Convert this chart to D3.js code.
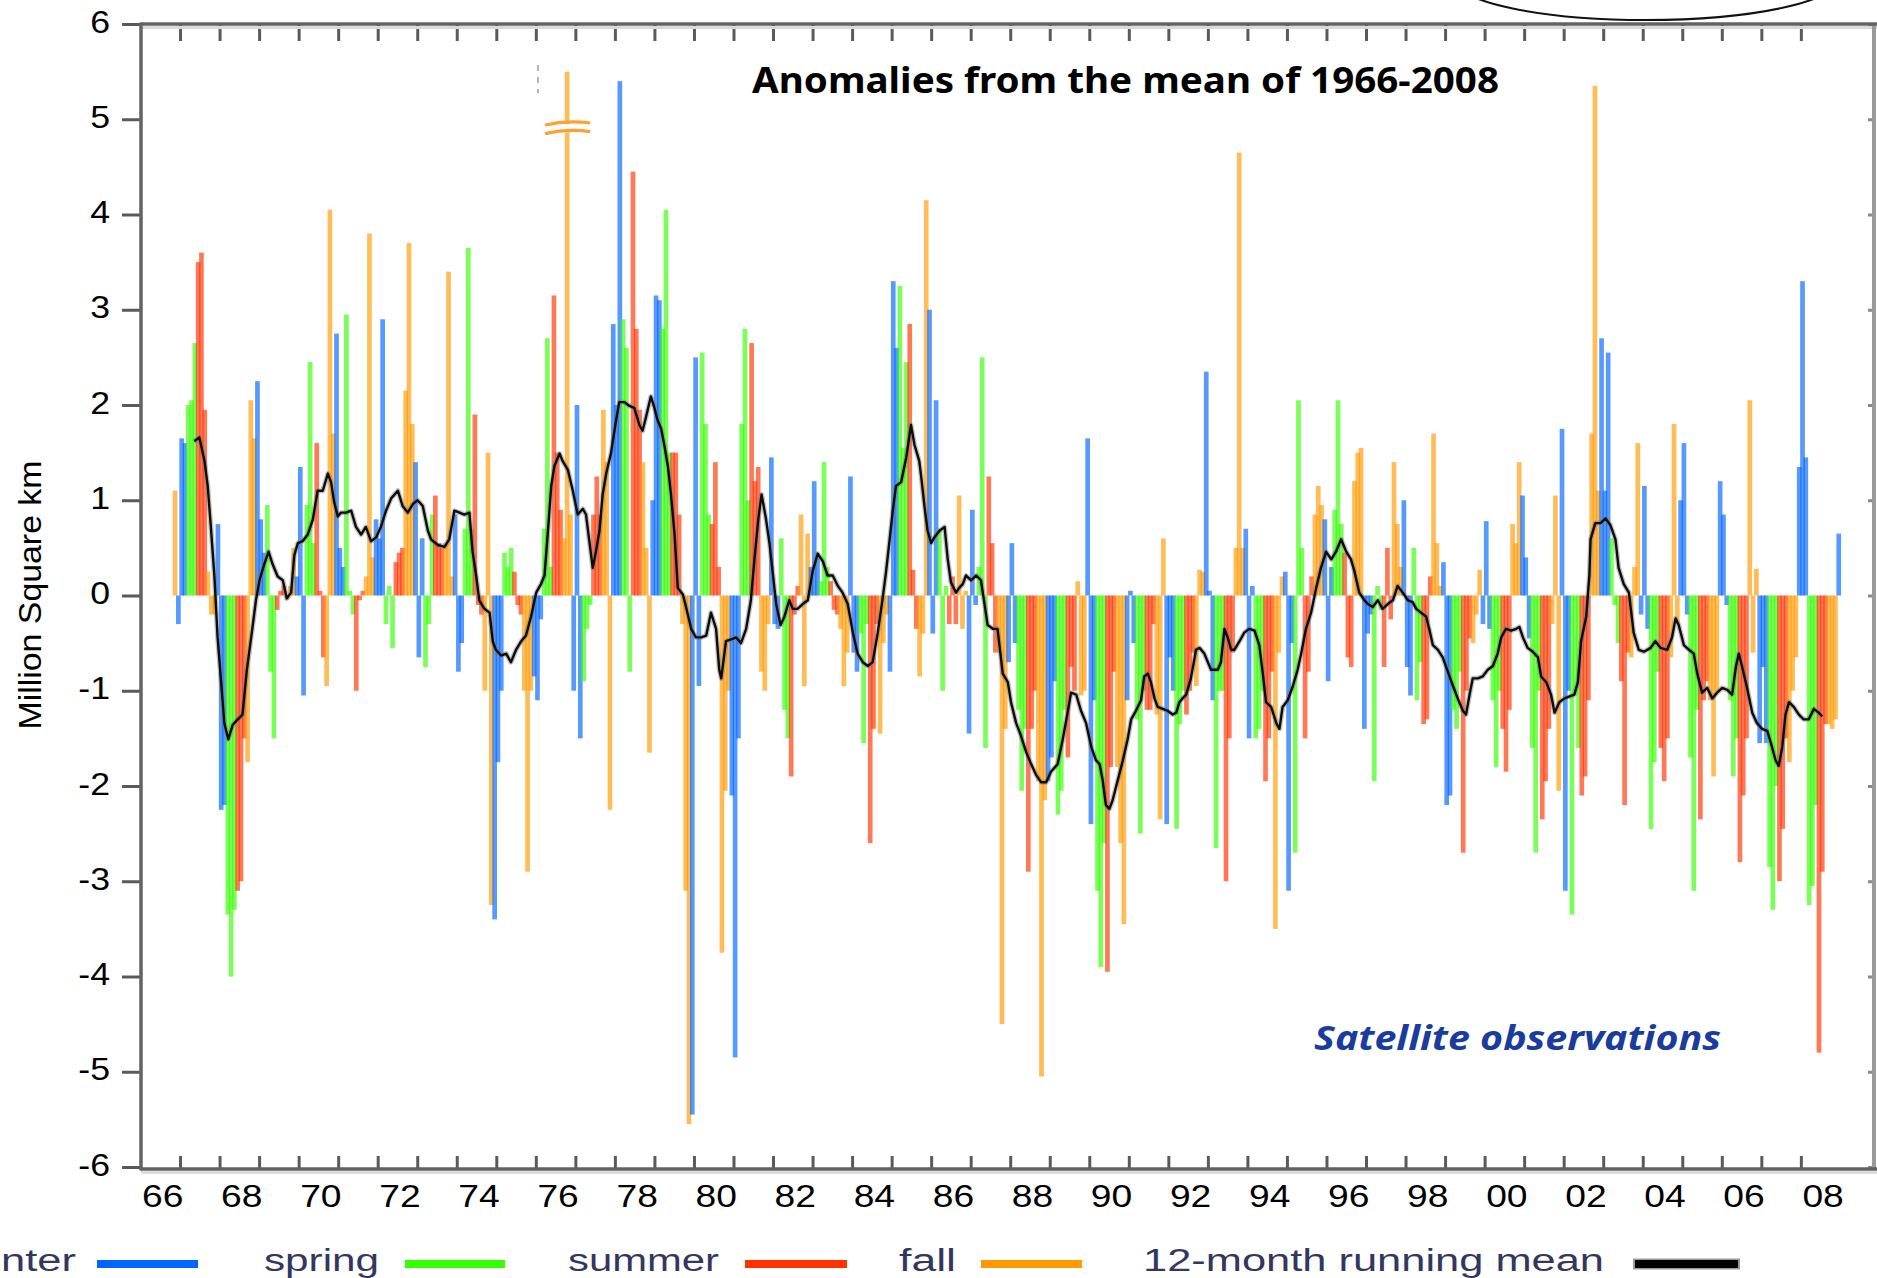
<!DOCTYPE html>
<html>
<head>
<meta charset="utf-8">
<script src="https://cdn.jsdelivr.net/npm/d3@7"></script>
<style>
  html, body { margin: 0; padding: 0; background: #ffffff; overflow: hidden; }
  svg { display: block; }
</style>
</head>
<body>
<svg id="chart" width="1877" height="1278"></svg>
<script>
// Northern Hemisphere snow cover: monthly anomalies (million km²), Jan..Dec per row
const firstYear = 1966;
const anomalies1966to1969 = [
  [null, null, null, null, null, null, null, null, null, null, 1.1, -0.3],
  [1.65, 1.6, 2.0, 2.05, 2.65, 3.5, 3.6, 1.95, 0.25, -0.2, -0.2, 0.75],
  [-2.25, -2.2, -3.35, -4.0, -3.3, -3.1, -3.0, -1.5, -1.75, 2.05, 1.65, 2.25],
  [0.8, 0.45, 0.95, -0.8, -1.5, -0.15, 0.05, 0.1, -0.05, 0.1, 0.5, 0.2]
];
const anomalies1970s = [
  [1.35, -1.05, 0.95, 2.45, 0.55, 1.6, 0.05, -0.65, -0.95, 4.05, 1.7, 2.75],
  [0.5, 0.3, 2.95, 0.05, -0.2, -1.0, -0.05, 0.05, 0.2, 3.8, 0.4, 0.8],
  [0.6, 2.9, -0.3, 0.1, -0.55, 0.35, 0.45, 0.5, 2.15, 3.7, 1.8, 1.4],
  [-0.65, 0.6, -0.75, -0.3, 0.85, 1.05, 0.55, 0.5, 0.55, 3.4, 0.2, 0.85],
  [-0.8, -0.5, 0.7, 3.65, 0.7, 1.9, -0.1, -0.2, -1.0, 1.5, -3.25, -3.4],
  [-1.75, -1.0, 0.45, 0.3, 0.5, 0.25, -0.1, -0.2, -1.0, -2.9, -1.0, -0.85],
  [-1.1, -0.25, 0.7, 2.7, 0.3, 3.15, 1.5, 0.9, 0.6, 5.5, 0.85, -1.0],
  [2.0, -1.5, -0.9, -0.35, -0.1, 0.85, 1.25, 0.85, 1.95, 1.4, -2.25, 2.85],
  [2.0, 5.4, 2.9, 2.6, -0.8, 4.45, 2.8, 1.95, 1.4, 0.5, -1.65, 1.0],
  [3.15, 3.1, 2.8, 4.05, 1.5, 1.5, 1.5, 0.85, -0.3, -3.1, -5.55, -5.45]
];
const anomalies1980s = [
  [2.5, -0.95, 2.55, 1.8, 0.85, 0.75, 1.4, 0.3, -3.75, -2.05, -1.0, -2.1],
  [-4.85, -1.5, 1.8, 2.8, 1.0, 2.65, 1.2, 1.35, -0.8, -1.0, -0.3, 1.45],
  [-0.3, -0.35, 0.6, -1.2, -1.5, -1.9, -0.2, 0.1, 0.85, -0.95, 0.65, 0.3],
  [1.2, 0.4, 0.15, 1.4, 0.3, 0.15, -0.15, -0.2, -0.35, -0.95, -0.6, 1.25],
  [-0.6, -0.8, -0.4, -1.55, -0.3, -2.6, -1.4, -0.3, -1.45, -0.5, -0.2, -0.8],
  [3.3, 2.6, 3.25, 1.55, 2.45, 2.85, 0.27, -0.35, -0.85, -0.4, 4.15, 3.0],
  [-0.4, 2.05, 0.7, -1.0, 0.1, -0.3, 0.2, -0.3, 1.05, -0.35, 0.05, -1.45],
  [0.9, -0.1, 0.3, 2.5, -1.6, 1.25, 0.55, -0.6, -0.6, -4.5, -1.4, -0.7],
  [0.55, -0.5, -1.2, -2.05, -1.4, -2.9, -1.4, -1.0, -1.95, -5.05, -2.15, -1.95],
  [-1.7, -0.9, -2.3, -2.05, -1.2, -1.7, -0.75, -1.0, 0.15, -1.05, -1.0, 1.65]
];
const anomalies1990s = [
  [-2.4, -1.1, -3.1, -3.9, -2.6, -3.95, -1.8, -0.8, -1.8, -2.6, -3.45, -1.1],
  [0.05, -0.5, -1.3, -2.5, -1.0, -1.2, -1.2, -0.3, -1.25, -2.35, 0.6, -2.4],
  [-0.65, -1.0, -2.45, -1.35, -1.0, -1.25, -1.0, -0.6, -0.95, 0.27, 0.25, 2.35],
  [0.05, -1.1, -2.65, -1.0, -1.0, -3.0, -1.5, -0.6, 0.5, 4.65, 0.5, 0.7],
  [-1.5, 0.1, -1.5, -1.4, -1.0, -1.95, -1.5, -0.8, -3.5, -0.6, 0.2, 0.25],
  [-3.1, -0.5, -2.7, 2.05, 0.5, -1.5, -0.8, 0.2, 0.85, 1.15, 0.95, 0.8],
  [-0.9, 0.3, 0.9, 2.05, 0.75, 0.45, -0.65, -0.75, 1.2, 1.5, 1.55, -1.4],
  [-0.4, -0.2, -1.95, 0.1, -0.15, -0.75, 0.5, -0.25, 1.4, 0.75, 0.3, 1.0],
  [-0.75, -1.05, 0.5, -1.1, -0.7, -1.35, -1.3, 0.2, 1.7, 0.55, 0.1, 0.35],
  [-2.2, -2.1, -1.2, -1.4, -0.8, -2.7, -1.0, -0.45, -0.5, -0.2, 0.27, -0.3]
];
const anomalies2000s = [
  [0.78, -0.35, -1.1, -1.8, -1.0, -1.4, -1.85, -1.2, 0.75, 0.55, 1.4, 1.05],
  [0.4, -0.45, -1.6, -2.7, -1.0, -2.35, -1.95, -1.4, -0.3, 1.05, -2.05, 1.75],
  [-3.1, -1.0, -3.35, -1.0, -1.6, -2.1, -1.9, -1.1, 1.7, 5.35, 1.1, 2.7],
  [1.1, 2.55, 0.6, -0.1, -0.5, -0.9, -2.2, -0.6, -0.65, 0.3, 1.6, -0.2],
  [1.15, -0.35, -2.45, -1.75, -0.8, -1.6, -1.95, -1.5, -0.65, 1.8, -0.3, 1.0],
  [1.6, -0.2, -1.7, -3.1, -1.2, -2.35, -1.1, -0.9, -1.1, -1.9, -1.0, 1.2],
  [0.85, -0.1, -1.1, -1.9, -1.5, -2.8, -2.1, -1.5, 2.05, -0.6, 0.28, -1.55],
  [-0.75, -1.55, -2.85, -3.3, -2.0, -3.0, -2.45, -1.5, -1.75, -1.0, -0.65, 1.35],
  [3.3, 1.45, -3.25, -3.05, -2.2, -4.8, -2.9, -1.35, -1.35, -1.4, -1.3, 0.65]
];

// 12-month running mean (decimal year, million km²)
const runMeanTime = [
  1967.36, 1967.49, 1967.62, 1967.70, 1967.78, 1967.87, 1967.95, 1968.04, 1968.12, 1968.22,
  1968.33, 1968.46, 1968.58, 1968.69, 1968.80, 1968.92, 1969.01, 1969.13, 1969.24, 1969.34,
  1969.47, 1969.60, 1969.70, 1969.81, 1969.89, 1969.98, 1970.10, 1970.23, 1970.36, 1970.48,
  1970.61, 1970.74, 1970.82, 1970.90, 1970.99, 1971.07, 1971.20, 1971.33, 1971.45, 1971.58,
  1971.70, 1971.83, 1971.96, 1972.08, 1972.21, 1972.34, 1972.51, 1972.63, 1972.76, 1972.89,
  1973.01, 1973.14, 1973.27, 1973.35, 1973.52, 1973.69, 1973.81, 1973.94, 1974.07, 1974.19,
  1974.32, 1974.40, 1974.49, 1974.57, 1974.70, 1974.83, 1974.91, 1974.99, 1975.12, 1975.25,
  1975.37, 1975.50, 1975.63, 1975.75, 1975.88, 1976.01, 1976.13, 1976.22, 1976.30, 1976.39,
  1976.47, 1976.60, 1976.68, 1976.81, 1976.93, 1977.06, 1977.19, 1977.27, 1977.36, 1977.44,
  1977.52, 1977.61, 1977.69, 1977.78, 1977.90, 1978.03, 1978.11, 1978.24, 1978.37, 1978.49,
  1978.62, 1978.70, 1978.79, 1978.91, 1979.00, 1979.08, 1979.17, 1979.25, 1979.34, 1979.42,
  1979.51, 1979.59, 1979.72, 1979.80, 1979.93, 1980.05, 1980.18, 1980.31, 1980.43, 1980.56,
  1980.64, 1980.69, 1980.81, 1980.94, 1981.07, 1981.19, 1981.32, 1981.44, 1981.53, 1981.63,
  1981.71, 1981.82, 1981.91, 1981.99, 1982.08, 1982.19, 1982.29, 1982.41, 1982.50, 1982.62,
  1982.75, 1982.88, 1983.00, 1983.13, 1983.26, 1983.38, 1983.51, 1983.64, 1983.76, 1983.89,
  1984.02, 1984.14, 1984.27, 1984.40, 1984.52, 1984.65, 1984.78, 1984.86, 1984.94, 1985.03,
  1985.11, 1985.24, 1985.37, 1985.49, 1985.58, 1985.70, 1985.75, 1985.83, 1985.91, 1986.00,
  1986.08, 1986.21, 1986.34, 1986.42, 1986.50, 1986.63, 1986.71, 1986.80, 1986.88, 1987.01,
  1987.14, 1987.26, 1987.35, 1987.43, 1987.56, 1987.68, 1987.81, 1987.94, 1988.02, 1988.15,
  1988.27, 1988.40, 1988.53, 1988.65, 1988.78, 1988.91, 1989.03, 1989.20, 1989.33, 1989.46,
  1989.54, 1989.67, 1989.79, 1989.92, 1990.05, 1990.17, 1990.26, 1990.34, 1990.42, 1990.51,
  1990.59, 1990.72, 1990.85, 1990.97, 1991.06, 1991.18, 1991.31, 1991.39, 1991.48, 1991.56,
  1991.65, 1991.73, 1991.86, 1991.98, 1992.11, 1992.20, 1992.28, 1992.36, 1992.45, 1992.57,
  1992.70, 1992.79, 1992.91, 1993.08, 1993.25, 1993.33, 1993.42, 1993.50, 1993.59, 1993.67,
  1993.80, 1993.92, 1994.05, 1994.18, 1994.30, 1994.39, 1994.47, 1994.60, 1994.73, 1994.81,
  1994.89, 1995.02, 1995.15, 1995.27, 1995.36, 1995.48, 1995.61, 1995.74, 1995.86, 1995.99,
  1996.12, 1996.24, 1996.37, 1996.50, 1996.62, 1996.71, 1996.83, 1996.96, 1997.05, 1997.17,
  1997.30, 1997.42, 1997.55, 1997.68, 1997.80, 1997.93, 1998.06, 1998.18, 1998.27, 1998.39,
  1998.52, 1998.61, 1998.69, 1998.82, 1998.94, 1999.07, 1999.20, 1999.32, 1999.45, 1999.53,
  1999.62, 1999.70, 1999.83, 1999.95, 2000.08, 2000.21, 2000.33, 2000.42, 2000.54, 2000.67,
  2000.80, 2000.88, 2000.97, 2001.09, 2001.22, 2001.35, 2001.43, 2001.56, 2001.68, 2001.77,
  2001.89, 2002.02, 2002.15, 2002.27, 2002.36, 2002.44, 2002.57, 2002.65, 2002.68, 2002.80,
  2002.93, 2003.06, 2003.18, 2003.31, 2003.39, 2003.52, 2003.65, 2003.77, 2003.90, 2004.03,
  2004.20, 2004.32, 2004.45, 2004.62, 2004.74, 2004.83, 2004.91, 2005.04, 2005.17, 2005.29,
  2005.38, 2005.50, 2005.63, 2005.76, 2005.88, 2006.01, 2006.14, 2006.26, 2006.36, 2006.43,
  2006.51, 2006.64, 2006.77, 2006.89, 2007.02, 2007.15, 2007.27, 2007.36, 2007.44, 2007.53,
  2007.61, 2007.70, 2007.82, 2007.95, 2008.07, 2008.20, 2008.33, 2008.45, 2008.54
];
const runMeanValue = [
  1.62, 1.66, 1.41, 1.15, 0.72, 0.20, -0.44, -0.91, -1.34, -1.51,
  -1.36, -1.30, -1.25, -0.78, -0.44, -0.05, 0.16, 0.33, 0.46, 0.33,
  0.20, 0.16, -0.03, 0.03, 0.42, 0.55, 0.57, 0.64, 0.80, 1.10,
  1.10, 1.28, 1.19, 0.98, 0.83, 0.87, 0.87, 0.89, 0.72, 0.64,
  0.72, 0.57, 0.61, 0.72, 0.89, 1.02, 1.10, 0.94, 0.87, 0.96,
  1.00, 0.94, 0.68, 0.59, 0.53, 0.51, 0.59, 0.89, 0.87, 0.85,
  0.87, 0.46, 0.21, -0.05, -0.14, -0.18, -0.48, -0.57, -0.63, -0.61,
  -0.70, -0.57, -0.48, -0.42, -0.22, 0.03, 0.12, 0.21, 0.64, 1.15,
  1.36, 1.49, 1.41, 1.32, 1.11, 0.85, 0.91, 0.85, 0.55, 0.29,
  0.46, 0.68, 1.06, 1.28, 1.49, 1.84, 2.03, 2.03, 1.99, 1.97,
  1.79, 1.73, 1.88, 2.09, 1.97, 1.84, 1.75, 1.58, 1.36, 1.06,
  0.64, 0.08, 0.01, -0.12, -0.35, -0.44, -0.44, -0.42, -0.18, -0.35,
  -0.78, -0.87, -0.48, -0.46, -0.44, -0.50, -0.35, -0.05, 0.38, 0.81,
  1.06, 0.81, 0.55, 0.25, -0.09, -0.31, -0.22, -0.05, -0.14, -0.14,
  -0.09, -0.05, 0.25, 0.44, 0.36, 0.21, 0.21, 0.10, 0.03, -0.09,
  -0.39, -0.61, -0.70, -0.74, -0.70, -0.39, -0.01, 0.25, 0.55, 0.89,
  1.15, 1.19, 1.45, 1.79, 1.58, 1.41, 1.24, 0.94, 0.68, 0.55,
  0.61, 0.68, 0.72, 0.38, 0.14, 0.03, 0.08, 0.12, 0.21, 0.16,
  0.21, 0.16, -0.09, -0.31, -0.35, -0.35, -0.82, -0.91, -1.12, -1.34,
  -1.47, -1.64, -1.77, -1.88, -1.96, -1.96, -1.85, -1.77, -1.51, -1.21,
  -1.02, -1.04, -1.21, -1.34, -1.59, -1.73, -1.77, -1.94, -2.20, -2.24,
  -2.15, -1.94, -1.73, -1.51, -1.30, -1.21, -1.10, -0.85, -0.82, -0.91,
  -1.08, -1.17, -1.19, -1.21, -1.25, -1.23, -1.12, -1.08, -1.04, -0.87,
  -0.57, -0.55, -0.61, -0.78, -0.78, -0.70, -0.35, -0.44, -0.57, -0.57,
  -0.48, -0.39, -0.35, -0.37, -0.52, -0.82, -1.12, -1.17, -1.34, -1.40,
  -1.17, -1.10, -0.95, -0.78, -0.61, -0.35, -0.18, 0.08, 0.29, 0.46,
  0.38, 0.46, 0.59, 0.46, 0.38, 0.25, 0.03, -0.05, -0.09, -0.12,
  -0.05, -0.14, -0.09, -0.05, 0.10, 0.03, -0.05, -0.07, -0.14, -0.18,
  -0.22, -0.37, -0.52, -0.57, -0.65, -0.80, -0.95, -1.08, -1.21, -1.25,
  -1.04, -0.87, -0.87, -0.85, -0.78, -0.74, -0.61, -0.44, -0.35, -0.37,
  -0.35, -0.33, -0.44, -0.55, -0.59, -0.65, -0.85, -0.91, -1.04, -1.23,
  -1.12, -1.08, -1.06, -1.04, -0.91, -0.48, -0.22, 0.21, 0.59, 0.76,
  0.76, 0.81, 0.74, 0.59, 0.29, 0.12, 0.03, -0.39, -0.57, -0.59,
  -0.55, -0.48, -0.55, -0.57, -0.44, -0.24, -0.31, -0.52, -0.57, -0.61,
  -0.82, -1.02, -0.97, -1.08, -1.02, -0.97, -0.99, -1.04, -0.74, -0.61,
  -0.74, -0.97, -1.23, -1.34, -1.40, -1.42, -1.59, -1.73, -1.79, -1.59,
  -1.25, -1.12, -1.17, -1.25, -1.30, -1.30, -1.19, -1.23, -1.27
];

// Seasons, legend and ticks
const seasonNames = ["winter", "spring", "summer", "fall"];
const seasonColors = ["#0066ff", "#33ff00", "#ff3300", "#ff9900"];
const monthSeason = [0, 0, 1, 1, 1, 2, 2, 2, 3, 3, 3, 0];
const yTicks = [-6, -5, -4, -3, -2, -1, 0, 1, 2, 3, 4, 5, 6];
const xTickYears = [1966, 1968, 1970, 1972, 1974, 1976, 1978, 1980, 1982, 1984, 1986,
  1988, 1990, 1992, 1994, 1996, 1998, 2000, 2002, 2004, 2006, 2008];
const legendLabels = ["winter", "spring", "summer", "fall", "12-month running mean"];
const titleText = "Anomalies from the mean of 1966-2008";
const sourceText = "Satellite observations";
const yTitle = "Million Square km";
const brokenBar = { year: 1976, month: 9 };

// ---------- layout ----------
const svg = d3.select("#chart");
const plot = { left: 141, right: 1874, top: 24, bottom: 1169 };
const x = d3.scaleLinear().domain([1966, 2009.85]).range([140.5, 1874]);
const y = d3.scaleLinear().domain([-6, 6]).range([1167, 24]);
const FONT = "'Liberation Sans', Arial, sans-serif";

function widen(sel, k) {
  sel.each(function () {
    const w = this.getComputedTextLength();
    this.setAttribute("textLength", w * k);
    this.setAttribute("lengthAdjust", "spacingAndGlyphs");
  });
}
function fitWidth(sel, w) {
  sel.attr("textLength", w).attr("lengthAdjust", "spacingAndGlyphs");
}

svg.append("rect").attr("width", 1877).attr("height", 1278).attr("fill", "#ffffff");

// monthly records
const rows = [].concat(anomalies1966to1969, anomalies1970s, anomalies1980s, anomalies1990s, anomalies2000s);
const monthly = [];
rows.forEach((row, i) => row.forEach((v, m) => {
  if (v !== null) monthly.push({ year: firstYear + i, month: m, value: v });
}));

svg.append("defs").append("clipPath").attr("id", "plotClip")
  .append("rect").attr("x", plot.left).attr("y", plot.top)
  .attr("width", plot.right - plot.left).attr("height", plot.bottom - plot.top);

// bars are a little wider than one month so neighbours blend softly
const barPad = 0.7;
const barsG = svg.append("g").attr("clip-path", "url(#plotClip)");
barsG.selectAll("rect.bar").data(monthly).join("rect")
  .attr("class", "bar")
  .attr("x", d => x(d.year + d.month / 12) - barPad)
  .attr("width", d => x(d.year + (d.month + 1) / 12) - x(d.year + d.month / 12) + 2 * barPad)
  .attr("y", d => Math.min(y(d.value), y(0)))
  .attr("height", d => Math.abs(y(d.value) - y(0)))
  .attr("fill", d => seasonColors[monthSeason[d.month]])
  .attr("fill-opacity", 0.66);

// axis break on the off-scale October 1976 bar
const bb = monthly.find(d => d.year === brokenBar.year && d.month === brokenBar.month);
if (bb) {
  const bx = x(bb.year + (bb.month + 0.5) / 12);
  const yA = y(4.95), yB = y(4.86);
  barsG.append("rect").attr("x", bx - 4).attr("width", 8)
    .attr("y", yA).attr("height", yB - yA).attr("fill", "#ffffff");
  [yA, yB].forEach(yy => {
    barsG.append("path")
      .attr("d", `M${bx - 22},${yy + 1} Q${bx},${yy - 4} ${bx + 23},${yy - 1}`)
      .attr("fill", "none").attr("stroke", "#ffa030").attr("stroke-width", 3.2);
  });
}

// running mean
const meanPts = runMeanTime.map((t, i) => [t, runMeanValue[i]]);
const meanLine = d3.line().x(d => x(d[0])).y(d => y(d[1]));
barsG.append("path").datum(meanPts).attr("d", meanLine)
  .attr("fill", "none").attr("stroke", "#777").attr("stroke-opacity", 0.45)
  .attr("stroke-width", 5).attr("stroke-linejoin", "round");
barsG.append("path").datum(meanPts).attr("d", meanLine)
  .attr("fill", "none").attr("stroke", "#0d0d0d")
  .attr("stroke-width", 2.4).attr("stroke-linejoin", "round");

// ---------- frame and axes ----------
const frame = svg.append("g");
frame.append("line").attr("x1", plot.left).attr("x2", 1877).attr("y1", plot.top + 3.5).attr("y2", plot.top + 3.5)
  .attr("stroke", "#d9d9d9").attr("stroke-width", 3);
frame.append("line").attr("x1", plot.left).attr("x2", 1877).attr("y1", plot.bottom + 3.5).attr("y2", plot.bottom + 3.5)
  .attr("stroke", "#dcdcdc").attr("stroke-width", 3);
frame.append("line").attr("x1", plot.right).attr("x2", plot.right).attr("y1", plot.top).attr("y2", plot.bottom)
  .attr("stroke", "#9a9a9a").attr("stroke-width", 4);

const yearTicks = d3.range(1967, 2009);
const tickStyle = g => {
  g.select(".domain").remove();
  g.selectAll(".tick line").attr("stroke", "#5a5a5a").attr("stroke-width", 3);
};

svg.append("g").attr("transform", `translate(0,${plot.top})`)
  .call(d3.axisTop(x).tickValues(yearTicks).tickSize(-17).tickFormat(""))
  .call(tickStyle);
svg.append("g").attr("transform", `translate(0,${plot.bottom})`)
  .call(d3.axisBottom(x).tickValues(yearTicks).tickSize(-13).tickFormat(""))
  .call(tickStyle);
svg.append("g").attr("transform", `translate(${plot.right},0)`)
  .call(d3.axisRight(y).tickValues(yTicks).tickSize(-6).tickFormat(""))
  .call(g => { g.select(".domain").remove(); g.selectAll(".tick line").attr("stroke", "#8a8a8a").attr("stroke-width", 3); });

const yAxisG = svg.append("g").attr("transform", `translate(${plot.left},0)`)
  .call(d3.axisLeft(y).tickValues(yTicks).tickSize(19).tickPadding(12).tickFormat(d => String(d)))
  .call(tickStyle);
yAxisG.selectAll(".tick text")
  .attr("font-family", FONT).attr("font-size", 31).attr("fill", "#000").attr("dy", "0.26em")
  .call(widen, 1.15);

const xLabelG = svg.append("g").attr("transform", `translate(0,${plot.bottom})`)
  .call(d3.axisBottom(x).tickValues(xTickYears.map(d => d + 0.55)).tickSize(0).tickPadding(16)
    .tickFormat(d => String(Math.floor(d) % 100).padStart(2, "0")));
xLabelG.select(".domain").remove();
xLabelG.selectAll(".tick text")
  .attr("font-family", FONT).attr("font-size", 31).attr("fill", "#000")
  .call(widen, 1.2);

// frame lines drawn over tick roots
frame.raise();
svg.append("line").attr("x1", plot.left).attr("x2", 1877).attr("y1", plot.top).attr("y2", plot.top)
  .attr("stroke", "#626262").attr("stroke-width", 3.5);
svg.append("line").attr("x1", plot.left).attr("x2", 1877).attr("y1", plot.bottom).attr("y2", plot.bottom)
  .attr("stroke", "#626262").attr("stroke-width", 3.5);
svg.append("line").attr("x1", plot.left).attr("x2", plot.left).attr("y1", plot.top - 1.5).attr("y2", plot.bottom + 1.5)
  .attr("stroke", "#626262").attr("stroke-width", 3.5);

// y-axis title
svg.append("text")
  .attr("transform", "translate(41,595) rotate(-90)")
  .attr("text-anchor", "middle")
  .attr("font-family", FONT).attr("font-size", 31).attr("fill", "#000")
  .text(yTitle)
  .call(fitWidth, 269);

// title
svg.append("text")
  .attr("x", 752).attr("y", 93)
  .attr("font-family", "'Noto Sans', 'Liberation Sans', sans-serif")
  .attr("font-weight", "bold").attr("font-size", 36).attr("fill", "#000")
  .text(titleText)
  .call(fitWidth, 747);

// small dashed mark above the 1976 column
svg.append("line").attr("x1", 538).attr("x2", 538).attr("y1", 65).attr("y2", 93)
  .attr("stroke", "#a0a0a0").attr("stroke-width", 1.5).attr("stroke-dasharray", "6 6");

// source note
svg.append("text")
  .attr("x", 1314).attr("y", 1050)
  .attr("font-family", "'Noto Sans', 'Liberation Sans', sans-serif")
  .attr("font-weight", "bold").attr("font-style", "italic")
  .attr("font-size", 34).attr("fill", "#1a3c9c")
  .text(sourceText)
  .call(fitWidth, 407);

// partial ellipse at top right
svg.append("ellipse")
  .attr("cx", 1646).attr("cy", -20).attr("rx", 190).attr("ry", 40)
  .attr("fill", "none").attr("stroke", "#111").attr("stroke-width", 2);

// ---------- legend ----------
// the first label runs off the left edge of the page
const legendItems = [
  { label: legendLabels[0], color: seasonColors[0], tx0: -40, tx1: 76, lx0: 97, lx1: 198 },
  { label: legendLabels[1], color: seasonColors[1], tx0: 264, tx1: 379, lx0: 405, lx1: 505 },
  { label: legendLabels[2], color: seasonColors[2], tx0: 568, tx1: 719, lx0: 745, lx1: 847 },
  { label: legendLabels[3], color: seasonColors[3], tx0: 899, tx1: 956, lx0: 981, lx1: 1082 },
  { label: legendLabels[4], color: "#000000", tx0: 1143, tx1: 1604, lx0: 1635, lx1: 1738 }
];
const legendG = svg.append("g");
legendItems.forEach((it, i) => {
  legendG.append("text")
    .attr("x", it.tx0).attr("y", 1271)
    .attr("font-family", FONT).attr("font-size", 31).attr("fill", "#33375f")
    .text(it.label)
    .call(fitWidth, it.tx1 - it.tx0);
  if (i === 4) {
    legendG.append("line").attr("x1", it.lx0 - 2).attr("x2", it.lx1 + 2).attr("y1", 1264).attr("y2", 1264)
      .attr("stroke", "#9a9a9a").attr("stroke-width", 11);
  }
  legendG.append("line").attr("x1", it.lx0).attr("x2", it.lx1).attr("y1", 1264).attr("y2", 1264)
    .attr("stroke", it.color).attr("stroke-width", 8);
});
</script>
</body>
</html>
